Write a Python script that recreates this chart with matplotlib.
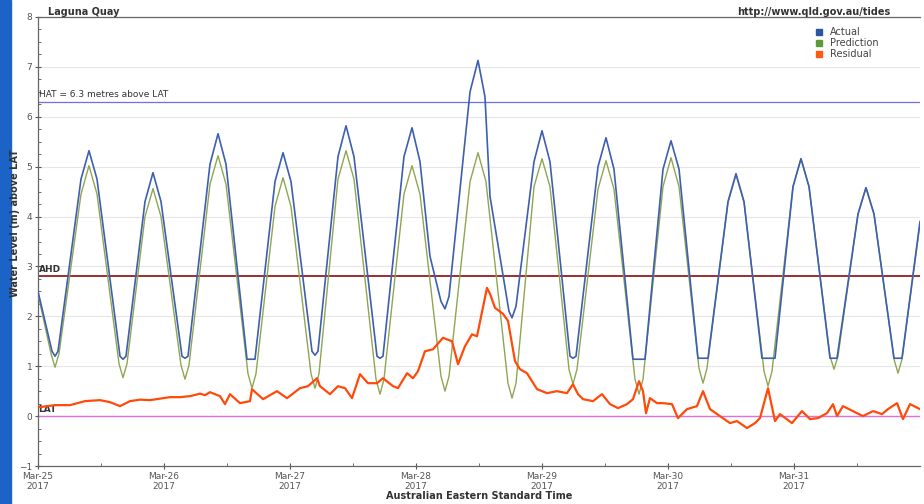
import numpy as np
import pandas as pd
import matplotlib
matplotlib.use("Agg")
import matplotlib.pyplot as plt
import matplotlib.dates as mdates
from matplotlib.patches import Rectangle

start = pd.Timestamp("2017-03-25 00:00")

# hours after Mar-25 00:00 AEST, water level (m above LAT)
actual_h = [0.0, 2.67, 3.24, 3.81, 8.19, 9.71, 11.24, 15.62, 16.19, 16.76,
            20.38, 21.90, 23.43, 27.43, 28.00, 28.57, 32.76, 34.29, 35.81,
            39.81, 41.33, 45.14, 46.67, 48.19, 52.19, 52.76, 53.33, 57.14,
            58.67, 60.19, 64.57, 65.14, 65.71, 69.71, 71.24, 72.76, 74.67,
            76.76, 77.52, 78.29, 82.29, 83.81, 85.14, 86.10, 89.71, 90.29,
            91.05, 94.48, 96.00, 97.52, 101.33, 101.90, 102.48, 106.67, 108.19,
            109.71, 113.33, 115.62, 119.05, 120.57, 122.10, 125.71, 127.62,
            131.43, 132.95, 134.48, 137.90, 140.38, 143.81, 145.33, 146.86,
            150.86, 152.19, 156.19, 157.71, 159.24, 163.05, 164.57, 168.0]
actual_v = [2.5, 1.3, 1.2, 1.3, 4.75, 5.32, 4.75, 1.2, 1.14, 1.2,
            4.3, 4.88, 4.3, 1.2, 1.16, 1.2, 5.05, 5.66, 5.05,
            1.14, 1.14, 4.7, 5.28, 4.7, 1.3, 1.22, 1.3, 5.2,
            5.82, 5.2, 1.2, 1.16, 1.2, 5.2, 5.78, 5.1, 3.2,
            2.3, 2.15, 2.4, 6.5, 7.13, 6.4, 4.4, 2.1, 1.97,
            2.2, 5.1, 5.72, 5.1, 1.2, 1.16, 1.2, 5.0, 5.58,
            4.95, 1.14, 1.14, 4.95, 5.52, 4.95, 1.16, 1.16,
            4.3, 4.86, 4.3, 1.16, 1.16, 4.6, 5.16, 4.6,
            1.16, 1.16, 4.05, 4.58, 4.05, 1.16, 1.16, 3.9]

pred_h = [0.0, 2.48, 3.24, 4.00, 8.19, 9.71, 11.24, 15.43, 16.19, 16.95,
          20.38, 21.90, 23.43, 27.24, 28.00, 28.76, 32.76, 34.29, 35.81,
          40.00, 40.76, 41.52, 45.14, 46.67, 48.19, 52.00, 52.76, 53.52,
          57.14, 58.67, 60.19, 64.38, 65.14, 65.90, 69.71, 71.24, 72.76,
          76.76, 77.52, 78.29, 82.29, 83.81, 85.33, 89.52, 90.29, 91.05,
          94.48, 96.00, 97.52, 101.14, 101.90, 102.67, 106.67, 108.19, 109.71,
          113.71, 114.48, 115.24, 119.05, 120.57, 122.10, 125.90, 126.67,
          127.43, 131.43, 132.95, 134.48, 138.29, 139.05, 139.81, 143.81,
          145.33, 146.86, 150.86, 151.62, 152.38, 156.19, 157.71, 159.24,
          163.05, 163.81, 164.57, 168.0]
pred_v = [2.45, 1.25, 0.98, 1.25, 4.45, 5.02, 4.45, 1.05, 0.77, 1.05,
          4.0, 4.56, 4.0, 1.02, 0.74, 1.02, 4.65, 5.22, 4.65,
          0.85, 0.56, 0.85, 4.2, 4.78, 4.2, 0.85, 0.56, 0.85,
          4.75, 5.32, 4.75, 0.74, 0.44, 0.74, 4.45, 5.02, 4.45,
          0.8, 0.5, 0.8, 4.7, 5.28, 4.7, 0.66, 0.36, 0.66,
          4.6, 5.16, 4.6, 0.94, 0.64, 0.94, 4.55, 5.12, 4.55,
          0.74, 0.44, 0.74, 4.6, 5.18, 4.6, 0.96, 0.66,
          0.96, 4.28, 4.84, 4.28, 0.9, 0.6, 0.9, 4.6,
          5.16, 4.6, 1.2, 0.94, 1.2, 4.05, 4.58, 4.05,
          1.14, 0.86, 1.14, 3.85]

resid_h = [0.0, 0.38, 3.24, 6.10, 8.95, 11.81, 13.71, 15.62, 17.52, 19.43,
           21.33, 23.24, 25.14, 27.05, 28.95, 30.86, 31.81, 32.76, 34.67, 35.62,
           36.57, 38.48, 40.38, 40.76, 42.86, 45.52, 47.43, 49.90, 51.43, 53.14,
           53.71, 55.62, 57.14, 58.48, 59.81, 61.33, 62.86, 64.57, 65.71, 67.62,
           68.57, 70.29, 71.43, 72.38, 73.71, 75.24, 77.14, 78.86, 80.00, 81.33,
           82.67, 83.62, 85.52, 86.10, 87.05, 88.57, 89.52, 90.86, 91.81, 93.14,
           95.05, 96.95, 98.86, 100.76, 101.90, 102.86, 103.81, 105.71, 107.43, 108.95,
           110.48, 112.19, 113.33, 114.48, 115.24, 115.81, 116.57, 117.90, 119.05, 120.76,
           121.90, 123.62, 125.52, 126.67, 128.00, 129.90, 131.81, 133.14, 135.05, 136.57,
           137.52, 139.05, 140.38, 141.33, 143.62, 145.52, 147.05, 148.57, 150.29, 151.43,
           152.19, 153.33, 155.24, 157.14, 159.05, 160.76, 161.90, 163.62, 164.76, 166.10,
           168.0]
resid_v = [0.2, 0.18, 0.22, 0.22, 0.3, 0.32, 0.28, 0.2, 0.3, 0.33,
           0.32, 0.35, 0.38, 0.38, 0.4, 0.45, 0.42, 0.48, 0.4, 0.24,
           0.44, 0.26, 0.3, 0.54, 0.34, 0.5, 0.36, 0.56, 0.6, 0.76,
           0.6, 0.44, 0.6, 0.56, 0.36, 0.84, 0.66, 0.66, 0.76, 0.6,
           0.56, 0.86, 0.76, 0.9, 1.3, 1.34, 1.57, 1.5, 1.04, 1.4,
           1.64, 1.6, 2.57, 2.45, 2.17, 2.05, 1.91, 1.1, 0.94, 0.86,
           0.54, 0.46, 0.5, 0.46, 0.64, 0.44, 0.34, 0.3, 0.44, 0.24,
           0.16, 0.24, 0.34, 0.7, 0.5, 0.06, 0.36, 0.26, 0.26, 0.24,
           -0.04, 0.14, 0.2, 0.5, 0.14, 0.0, -0.14, -0.1, -0.24, -0.14,
           -0.04, 0.56, -0.1, 0.04, -0.14, 0.1, -0.06, -0.04, 0.06, 0.24,
           0.0, 0.2, 0.1, 0.0, 0.1, 0.04, 0.14, 0.26, -0.06, 0.24,
           0.14]

hat_level = 6.3
ahd_level = 2.8
lat_level = 0.0

day_ticks = pd.date_range("2017-03-25", periods=7, freq="D")

c_actual = "#3d5fb0"
c_pred = "#8fa650"
c_resid = "#ff4a0a"


def to_time(hours):
    return start + pd.to_timedelta(hours, unit="h")


fig = plt.figure(figsize=(9.24, 5.04), dpi=100)
fig.patches.append(Rectangle((0, 0), 11 / 924, 1, transform=fig.transFigure,
                             color="#1c63c8", zorder=-1))
ax = fig.add_axes([38 / 924, 38 / 504, 882 / 924, 449 / 504])

ax.plot(to_time(pred_h), pred_v, color=c_pred, lw=1.0, zorder=3)
ax.plot(to_time(actual_h), actual_v, color=c_actual, lw=1.2, zorder=4)
ax.plot(to_time(resid_h), resid_v, color=c_resid, lw=1.6, zorder=5)

ax.axhline(hat_level, color="#6f6fe0", lw=0.9, zorder=2)
ax.axhline(ahd_level, color="#8b0a0a", lw=1.2, zorder=2)
ax.axhline(lat_level, color="#e070e0", lw=1.0, zorder=2)

tx = mdates.date2num(start) + 0.004
ax.text(tx, hat_level + 0.05, "HAT = 6.3 metres above LAT", fontsize=6.5, color="#333333", va="bottom")
ax.text(tx, ahd_level + 0.05, "AHD", fontsize=6.5, color="#333333", fontweight="bold", va="bottom")
ax.text(tx, lat_level + 0.05, "LAT", fontsize=6.5, color="#333333", fontweight="bold", va="bottom")

ax.set_xlim(start, start + pd.Timedelta(days=7))
ax.set_ylim(-1, 8)
ax.set_yticks(range(-1, 9))
ax.set_yticks(np.arange(-1, 8.01, 0.25), minor=True)
ax.set_xticks(day_ticks)
ax.xaxis.set_minor_locator(mdates.HourLocator(byhour=[12]))
ax.xaxis.set_major_formatter(mdates.DateFormatter("%b-%d\n%Y"))
ax.grid(axis="y", color="#e6e6e6", lw=0.8, zorder=0)
ax.tick_params(axis="both", which="major", labelsize=6.5, labelcolor="#555555",
               color="#555555", length=4, direction="inout", pad=2)
ax.tick_params(axis="both", which="minor", color="#555555", length=2, direction="in")
for s in ["left", "bottom", "top"]:
    ax.spines[s].set_color("#666666")
    ax.spines[s].set_linewidth(0.9)
ax.spines["right"].set_visible(False)

ax.set_xlabel("Australian Eastern Standard Time", fontsize=7, fontweight="bold", color="#333333", labelpad=0)
ax.set_ylabel("Water Level (m) above LAT", fontsize=7, fontweight="bold", color="#333333")
ax.yaxis.set_label_coords(-0.02, 0.54)

fig.text(48 / 924, 1 - 12 / 504, "Laguna Quay", fontsize=7, fontweight="bold", color="#333333", va="center")
fig.text(890 / 924, 1 - 12 / 504, "http://www.qld.gov.au/tides", fontsize=7, fontweight="bold",
         color="#333333", va="center", ha="right")

handles = [plt.Line2D([], [], marker="s", ls="", color=c, markersize=5)
           for c in ["#2b55a0", "#5f9a3a", "#ff5a14"]]
ax.legend(handles, ["Actual", "Prediction", "Residual"], loc="upper left",
          bbox_to_anchor=(0.868, 0.99), frameon=False, fontsize=7, handletextpad=0.1,
          labelspacing=0.1, borderaxespad=0.2, labelcolor="#444444")

fig.savefig("out.png", dpi=100)
